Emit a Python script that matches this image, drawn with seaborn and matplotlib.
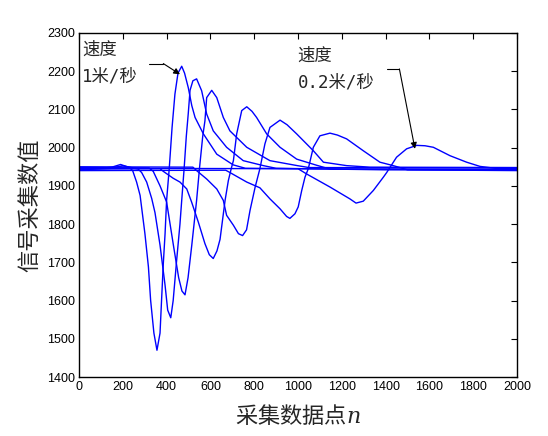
import matplotlib
matplotlib.use('Agg')
import matplotlib.pyplot as plt
import pandas as pd
import seaborn as sns

# sample index / signal values, one pair of lists per speed
c1_x = [0, 100, 150, 190, 230, 245, 263, 279, 301, 317, 327, 342, 356, 370, 377, 385, 393, 400, 412, 425, 438, 452, 469,
        482, 499, 515, 530, 568, 629, 704, 760, 1200, 2000]
c1_y = [1945, 1946, 1949, 1956, 1948, 1940, 1910, 1875, 1775, 1688, 1601, 1515, 1470, 1515, 1601, 1697, 1775, 1862, 1945,
        2053, 2140, 2195, 2213, 2195, 2157, 2110, 2079, 2036, 1983, 1955, 1946, 1944, 1943]

c2_x = [0, 150, 200, 270, 286, 309, 332, 347, 370, 393, 405, 419, 430, 445, 461, 469, 480, 490, 499, 507, 520, 537,
        560, 583, 613, 674, 750, 842, 900, 1400, 2000]
c2_y = [1942, 1946, 1953, 1944, 1935, 1910, 1867, 1830, 1745, 1640, 1575, 1555, 1600, 1700, 1800, 1862, 1945, 2030,
        2090, 2150, 2175, 2180, 2149, 2088, 2044, 2001, 1966, 1953, 1946, 1942, 1941]

c3_x = [0, 320, 339, 370, 400, 431, 455, 470, 484, 498, 515, 537, 550, 565, 575, 583, 606, 629, 659, 689, 766, 872,
        997, 1050, 2000]
c3_y = [1948, 1947, 1938, 1900, 1858, 1745, 1660, 1625, 1615, 1660, 1745, 1862, 1945, 2030, 2070, 2131, 2150, 2131,
        2079, 2044, 2001, 1966, 1953, 1948, 1947]

c4_x = [0, 370, 385, 430, 461, 492, 514, 545, 575, 595, 613, 630, 644, 667, 682, 695, 705, 720, 743, 766, 790, 811,
        857, 918, 994, 1085, 1146, 2000]
c4_y = [1944, 1945, 1938, 1920, 1910, 1892, 1858, 1805, 1749, 1720, 1710, 1730, 1760, 1862, 1914, 1945, 1966, 2036,
        2097, 2107, 2095, 2079, 2036, 2001, 1970, 1954, 1944, 1943]

c5_x = [0, 520, 537, 583, 629, 659, 674, 705, 728, 747, 765, 781, 804, 826, 849, 872, 918, 950, 994, 1070, 1116, 1222,
        1329, 2000]
c5_y = [1950, 1949, 1940, 1918, 1892, 1862, 1823, 1797, 1775, 1770, 1785, 1836, 1896, 1945, 2010, 2053, 2072, 2060,
        2036, 1992, 1962, 1953, 1949, 1948]

c6_x = [0, 670, 689, 766, 826, 872, 918, 948, 963, 986, 1001, 1017, 1032, 1047, 1070, 1100, 1146, 1180, 1222, 1298,
        1374, 1435, 1500, 2000]
c6_y = [1940, 1941, 1935, 1910, 1895, 1866, 1840, 1820, 1815, 1827, 1845, 1888, 1923, 1945, 2001, 2031, 2038, 2033,
        2023, 1992, 1962, 1953, 1942, 1940]

c7_x = [0, 1000, 1040, 1146, 1237, 1265, 1298, 1344, 1390, 1405, 1450, 1496, 1542, 1580, 1618, 1694, 1770, 1831, 1900,
        2000]
c7_y = [1946, 1945, 1931, 1897, 1866, 1855, 1860, 1888, 1923, 1935, 1975, 1997, 2006, 2005, 2001, 1979, 1962, 1951,
        1946, 1945]

curves = [(c1_x, c1_y), (c2_x, c2_y), (c3_x, c3_y), (c4_x, c4_y), (c5_x, c5_y), (c6_x, c6_y), (c7_x, c7_y)]

x_ticks = list(range(0, 2001, 200))
y_ticks = list(range(1400, 2301, 100))

sns.set_style('white')
plt.rcParams['font.family'] = ['Noto Sans CJK SC', 'DejaVu Sans']
plt.rcParams['mathtext.fontset'] = 'dejavuserif'

fig, ax = plt.subplots(figsize=(5.48, 4.36), dpi=100)
fig.subplots_adjust(left=79/548, right=517/548, bottom=59/436, top=403/436)

for i, (xs, ys) in enumerate(curves):
    d = pd.DataFrame({'n': xs, 'v': ys})
    sns.lineplot(data=d, x='n', y='v', ax=ax, color='#0000ff', linewidth=1.0,
                 estimator=None, sort=False)

ax.set_xlim(0, 2000)
ax.set_ylim(1400, 2300)
ax.set_xticks(x_ticks)
ax.set_yticks(y_ticks)
ax.tick_params(direction='in', length=4, width=0.8, top=True, right=True,
               labelsize=9, pad=3, colors='black')
for lab in ax.get_xticklabels() + ax.get_yticklabels():
    lab.set_family('Liberation Sans')
for s in ax.spines.values():
    s.set_color('black')
    s.set_linewidth(1.0)

ax.set_xlabel('采集数据点$n$', fontsize=16, labelpad=7)
ax.set_ylabel('信号采集数值', fontsize=16, labelpad=4)

# annotations
ann_font = ['DejaVu Sans Mono', 'Noto Sans CJK SC']
ax.text(16, 2256, '速度', fontsize=12.5, va='center', ha='left', family=ann_font)
ax.text(14, 2185, '1米/秒', fontsize=12.5, va='center', ha='left', family=ann_font)
ax.plot([320, 385], [2220, 2220], color='black', linewidth=0.8)
ax.annotate('', xy=(461, 2192), xytext=(385, 2220),
            arrowprops=dict(arrowstyle='-|>', color='black', lw=0.8, mutation_scale=9,
                            shrinkA=0, shrinkB=0))

ax.text(998, 2240, '速度', fontsize=12.5, va='center', ha='left', family=ann_font)
ax.text(998, 2170, '0.2米/秒', fontsize=12.5, va='center', ha='left', family=ann_font)
ax.plot([1405, 1463], [2206, 2206], color='black', linewidth=0.8)
ax.annotate('', xy=(1534, 1997), xytext=(1463, 2206),
            arrowprops=dict(arrowstyle='-|>', color='black', lw=0.8, mutation_scale=9,
                            shrinkA=0, shrinkB=0))

fig.savefig('out.png', dpi=100)
